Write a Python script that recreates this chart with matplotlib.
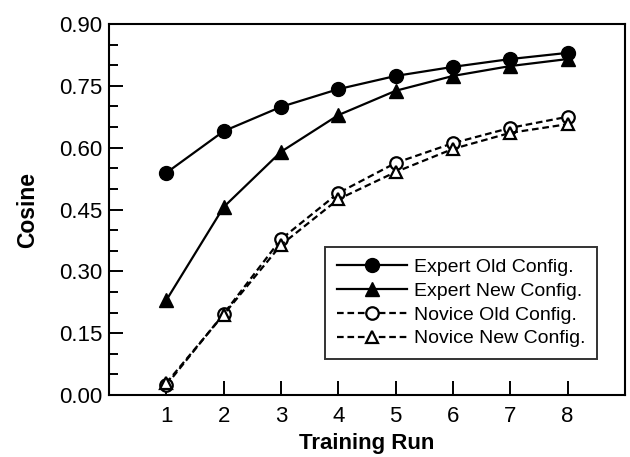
import matplotlib
matplotlib.use("Agg")
import matplotlib.pyplot as plt
from matplotlib.ticker import MultipleLocator, FormatStrFormatter

plt.rcParams['font.family'] = ['Liberation Sans', 'DejaVu Sans']

runs = [1, 2, 3, 4, 5, 6, 7, 8]
expert_old = [0.539, 0.640, 0.699, 0.742, 0.774, 0.796, 0.815, 0.830]
expert_new = [0.230, 0.456, 0.590, 0.679, 0.738, 0.774, 0.798, 0.815]
novice_old = [0.024, 0.197, 0.378, 0.490, 0.563, 0.611, 0.648, 0.675]
novice_new = [0.029, 0.195, 0.364, 0.475, 0.541, 0.597, 0.636, 0.657]

fig = plt.figure(figsize=(6.3, 4.57), dpi=100)
ax = fig.add_axes([109 / 630, 1 - 395 / 457, (625 - 109) / 630, (395 - 24) / 457])

dash = (0, (3.0, 1.7))
ax.plot(runs, expert_old, color='black', lw=1.6, marker='o', ms=10,
        label='Expert Old Config.')
ax.plot(runs, expert_new, color='black', lw=1.6, marker='^', ms=10,
        label='Expert New Config.')
ax.plot(runs, novice_old, color='black', lw=1.6, ls=dash, marker='o', ms=9,
        mfc='white', mew=1.6, label='Novice Old Config.')
ax.plot(runs, novice_new, color='black', lw=1.6, ls=dash, marker='^', ms=9,
        mfc='white', mew=1.6, label='Novice New Config.')

ax.set_xlim(0, 9)
ax.set_ylim(0, 0.9)
ax.set_xticks(runs)
ax.yaxis.set_major_locator(MultipleLocator(0.15))
ax.yaxis.set_minor_locator(MultipleLocator(0.05))
ax.yaxis.set_major_formatter(FormatStrFormatter('%.2f'))

for s in ax.spines.values():
    s.set_linewidth(1.5)
ax.tick_params(axis='both', which='major', direction='in', length=10, width=1.4,
               labelsize=16)
ax.tick_params(axis='x', which='major', pad=8)
ax.tick_params(axis='y', which='major', pad=5)
ax.tick_params(axis='y', which='minor', direction='in', length=6.5, width=1.4)
ax.tick_params(top=False, right=False)

ax.set_xlabel('Training Run', fontsize=16, fontweight='bold', labelpad=4)
ax.set_ylabel('Cosine', fontsize=16.5, fontweight='bold', labelpad=14)

leg = ax.legend(loc='lower right', bbox_to_anchor=(0.946, 0.097), borderaxespad=0,
                fontsize=14, frameon=True, fancybox=False, edgecolor='black',
                handlelength=3.6, handletextpad=0.35, labelspacing=0.32,
                borderpad=0.6)
leg.get_frame().set_linewidth(1.4)

fig.savefig('out.png', dpi=100)
